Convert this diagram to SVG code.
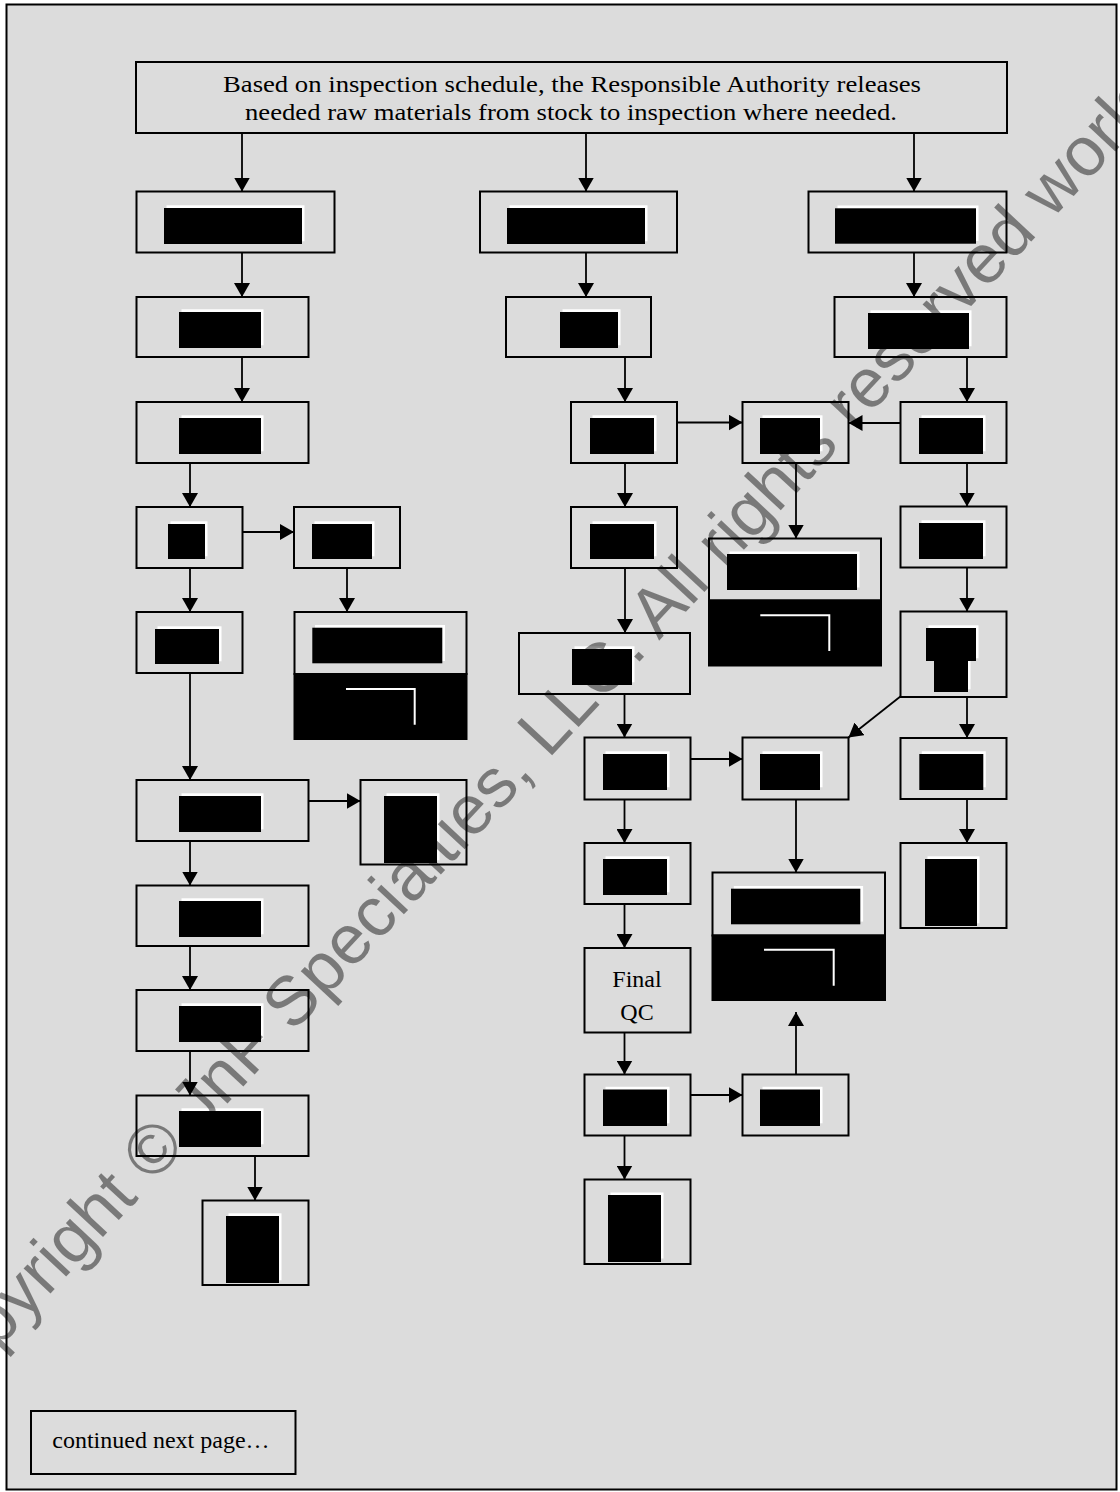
<svg xmlns="http://www.w3.org/2000/svg" width="1120" height="1492" viewBox="0 0 1120 1492">
<defs>
<marker id="ah" viewBox="0 0 14 16" markerWidth="14" markerHeight="16" refX="14" refY="8" orient="auto" markerUnits="userSpaceOnUse">
<path d="M0,0 L14,8 L0,16 z" fill="#000"/>
</marker>
<style>
.box{fill:none;stroke:#000;stroke-width:2}
.blk{fill:#000}
.sh{fill:#fff}
.lowr{fill:#000;stroke:#000;stroke-width:2}
.wl{fill:none;stroke:#fff;stroke-width:2}
.cn{fill:none;stroke:#000;stroke-width:1.8;marker-end:url(#ah)}
.t{font-family:"Liberation Serif","Times New Roman",Times,serif;font-size:24px;fill:#000}
.wm{font-family:"Liberation Sans",Arial,sans-serif;font-size:69.5px;fill:#000;fill-opacity:0.45}
</style>
</defs>
<rect x="0" y="0" width="1120" height="1492" fill="#fff"/>
<rect x="6.5" y="4.5" width="1110" height="1485" fill="#dcdcdc" stroke="#000" stroke-width="2"/>

<g id="connectors">
<path class="cn" d="M242,133 V191.5"/>
<path class="cn" d="M586,133 V191.5"/>
<path class="cn" d="M914,133 V191.5"/>
<path class="cn" d="M242,252.5 V297"/>
<path class="cn" d="M242,357 V402"/>
<path class="cn" d="M190,463 V507"/>
<path class="cn" d="M242.5,532 H294"/>
<path class="cn" d="M190,568 V612"/>
<path class="cn" d="M347,568 V612"/>
<path class="cn" d="M190,673 V780"/>
<path class="cn" d="M308.5,801 H360.5"/>
<path class="cn" d="M190,841 V885.5"/>
<path class="cn" d="M190,946 V990"/>
<path class="cn" d="M190,1051 V1095.5"/>
<path class="cn" d="M255,1156 V1200.5"/>
<path class="cn" d="M586,252.5 V297"/>
<path class="cn" d="M625,357 V402"/>
<path class="cn" d="M677,422.5 H742.5"/>
<path class="cn" d="M900.5,423 H848.5"/>
<path class="cn" d="M796,463 V538.5"/>
<path class="cn" d="M625,463 V507"/>
<path class="cn" d="M625,568 V633"/>
<path class="cn" d="M624.5,694 V737.5"/>
<path class="cn" d="M690.5,759 H742.5"/>
<path class="cn" d="M901,696 L848.5,737.5"/>
<path class="cn" d="M624.5,799.5 V843"/>
<path class="cn" d="M624.5,904 V948"/>
<path class="cn" d="M624.5,1032.5 V1074.5"/>
<path class="cn" d="M690.5,1095 H742.5"/>
<path class="cn" d="M796,1074.5 V1012"/>
<path class="cn" d="M796,799.5 V872.5"/>
<path class="cn" d="M624.5,1135.5 V1179.5"/>
<path class="cn" d="M914,252.5 V297"/>
<path class="cn" d="M967,357 V402"/>
<path class="cn" d="M967,463 V506.5"/>
<path class="cn" d="M967,567.5 V611.5"/>
<path class="cn" d="M967,697 V738"/>
<path class="cn" d="M967,799 V843"/>
</g>

<g id="top">
<rect class="box" x="136" y="62" width="871" height="71"/>
<text class="t" x="572" y="91.5" text-anchor="middle" textLength="698" lengthAdjust="spacingAndGlyphs">Based on inspection schedule, the Responsible Authority releases</text>
<text class="t" x="571" y="120" text-anchor="middle" textLength="652" lengthAdjust="spacingAndGlyphs">needed raw materials from stock to inspection where needed.</text>
</g>

<g id="A1"><rect class="box" x="136.5" y="191.5" width="198" height="61"/><rect class="sh" x="166.5" y="205.3" width="138" height="36"/><rect class="blk" x="164" y="208" width="138" height="36"/></g>
<g id="A2"><rect class="box" x="136.5" y="297" width="172" height="60"/><rect class="sh" x="181.5" y="309.3" width="82" height="36"/><rect class="blk" x="179" y="312" width="82" height="36"/></g>
<g id="A3"><rect class="box" x="136.5" y="402" width="172" height="61"/><rect class="sh" x="181.5" y="415.3" width="82" height="36"/><rect class="blk" x="179" y="418" width="82" height="36"/></g>
<g id="A4"><rect class="box" x="136.5" y="507" width="106" height="61"/><rect class="sh" x="170.5" y="521.3" width="37" height="35"/><rect class="blk" x="168" y="524" width="37" height="35"/></g>
<g id="A5"><rect class="box" x="136.5" y="612" width="106" height="61"/><rect class="sh" x="157.5" y="626.3" width="64" height="35"/><rect class="blk" x="155" y="629" width="64" height="35"/></g>
<g id="A6"><rect class="box" x="294" y="507" width="106" height="61"/><rect class="sh" x="314.5" y="521.3" width="60" height="35"/><rect class="blk" x="312" y="524" width="60" height="35"/></g>
<g id="A7"><rect class="box" x="294.5" y="612" width="172" height="62"/><rect class="lowr" x="294.5" y="674" width="172" height="65"/><rect class="sh" x="315" y="625" width="130" height="36"/><rect class="blk" x="312.3" y="627.7" width="130" height="35.6"/><path class="wl" d="M346,689 H414.7 V724.7"/></g>
<g id="A8"><rect class="box" x="136.5" y="780" width="172" height="61"/><rect class="sh" x="181.5" y="793.3" width="82" height="36"/><rect class="blk" x="179" y="796" width="82" height="36"/></g>
<g id="A9"><rect class="box" x="360.5" y="780" width="106" height="84.5"/><rect class="sh" x="386.5" y="793.3" width="53" height="67"/><rect class="blk" x="384" y="796" width="53" height="67"/></g>
<g id="A10"><rect class="box" x="136.5" y="885.5" width="172" height="60.5"/><rect class="sh" x="181.5" y="898.3" width="82" height="36"/><rect class="blk" x="179" y="901" width="82" height="36"/></g>
<g id="A11"><rect class="box" x="136.5" y="990" width="172" height="61"/><rect class="sh" x="181.5" y="1003.3" width="82" height="36"/><rect class="blk" x="179" y="1006" width="82" height="36"/></g>
<g id="A12"><rect class="box" x="136.5" y="1095.5" width="172" height="60.5"/><rect class="sh" x="181.5" y="1108.3" width="82" height="36"/><rect class="blk" x="179" y="1111" width="82" height="36"/></g>
<g id="A13"><rect class="box" x="202.5" y="1200.5" width="106" height="84.5"/><rect class="sh" x="228.5" y="1213.3" width="53" height="67"/><rect class="blk" x="226" y="1216" width="53" height="67"/></g>

<g id="B1"><rect class="box" x="480" y="191.5" width="197" height="61"/><rect class="sh" x="509.5" y="205.3" width="138" height="36"/><rect class="blk" x="507" y="208" width="138" height="36"/></g>
<g id="B2"><rect class="box" x="506" y="297" width="145" height="60"/><rect class="sh" x="562.5" y="309.3" width="58" height="36"/><rect class="blk" x="560" y="312" width="58" height="36"/></g>
<g id="B3"><rect class="box" x="571" y="402" width="106" height="61"/><rect class="sh" x="592.5" y="415.3" width="64" height="36"/><rect class="blk" x="590" y="418" width="64" height="36"/></g>
<g id="B4"><rect class="box" x="742.5" y="402" width="106" height="61"/><rect class="sh" x="762.5" y="415.3" width="60" height="36"/><rect class="blk" x="760" y="418" width="60" height="36"/></g>
<g id="B5"><rect class="box" x="571" y="507" width="106" height="61"/><rect class="sh" x="592.5" y="521.3" width="64" height="35"/><rect class="blk" x="590" y="524" width="64" height="35"/></g>
<g id="B6"><rect class="box" x="519" y="633" width="171" height="61"/><rect class="sh" x="574.5" y="646.3" width="60" height="36"/><rect class="blk" x="572" y="649" width="60" height="36"/></g>
<g id="B7"><rect class="box" x="709" y="538.5" width="172" height="62"/><rect class="lowr" x="709" y="600.5" width="172" height="65"/><rect class="sh" x="729.5" y="551.5" width="130" height="36"/><rect class="blk" x="727" y="554" width="130" height="36"/><path class="wl" d="M760.3,615.3 H829.3 V651"/></g>
<g id="B8"><rect class="box" x="584.5" y="737.5" width="106" height="62"/><rect class="sh" x="605.5" y="751.3" width="64" height="36"/><rect class="blk" x="603" y="754" width="64" height="36"/></g>
<g id="B9"><rect class="box" x="742.5" y="737.5" width="106" height="62"/><rect class="sh" x="762.5" y="751.3" width="60" height="36"/><rect class="blk" x="760" y="754" width="60" height="36"/></g>
<g id="B10"><rect class="box" x="584.5" y="843" width="106" height="61"/><rect class="sh" x="605.5" y="856.3" width="64" height="36"/><rect class="blk" x="603" y="859" width="64" height="36"/></g>
<g id="B11"><rect class="box" x="584.5" y="948" width="106" height="84.5"/><text class="t" x="637" y="987" text-anchor="middle">Final</text><text class="t" x="637" y="1020" text-anchor="middle">QC</text></g>
<g id="B12"><rect class="box" x="584.5" y="1074.5" width="106" height="61"/><rect class="sh" x="605.5" y="1086.8" width="64" height="36.5"/><rect class="blk" x="603" y="1089.5" width="64" height="36.5"/></g>
<g id="B13"><rect class="box" x="742.5" y="1074.5" width="106" height="61"/><rect class="sh" x="762.5" y="1086.8" width="60" height="36.5"/><rect class="blk" x="760" y="1089.5" width="60" height="36.5"/></g>
<g id="B14"><rect class="box" x="712.5" y="872.5" width="172.5" height="63"/><rect class="lowr" x="712.5" y="935.5" width="172.5" height="64.5"/><rect class="sh" x="733.8" y="886" width="129.3" height="35.6"/><rect class="blk" x="731" y="888.7" width="129.3" height="35.6"/><path class="wl" d="M764,949.7 H833.7 V985.7"/></g>
<g id="B15"><rect class="box" x="584.5" y="1179.5" width="106" height="84.5"/><rect class="sh" x="610.5" y="1192.5" width="53" height="66"/><rect class="blk" x="608" y="1195" width="53" height="67"/></g>

<g id="R1"><rect class="box" x="808.5" y="191.5" width="198" height="61"/><rect class="sh" x="837.5" y="205.5" width="141" height="35.4"/><rect class="blk" x="835" y="208.3" width="141" height="35.4"/></g>
<g id="R2"><rect class="box" x="834.5" y="297" width="172" height="60"/><rect class="sh" x="870.5" y="310.3" width="101" height="36"/><rect class="blk" x="868" y="313" width="101" height="36"/></g>
<g id="R3"><rect class="box" x="900.5" y="402" width="106" height="61"/><rect class="sh" x="921.5" y="415.3" width="64" height="36"/><rect class="blk" x="919" y="418" width="64" height="36"/></g>
<g id="R4"><rect class="box" x="900.5" y="506.5" width="106" height="61"/><rect class="sh" x="921.5" y="520.3" width="64" height="36"/><rect class="blk" x="919" y="523" width="64" height="36"/></g>
<g id="R5"><rect class="box" x="900.5" y="611.5" width="106" height="85.5"/><rect class="sh" x="928.5" y="625.3" width="50" height="33"/><rect class="sh" x="936.5" y="658.3" width="34" height="31"/><rect class="blk" x="926" y="628" width="50" height="33"/><rect class="blk" x="934" y="661" width="34" height="31"/></g>
<g id="R6"><rect class="box" x="900.5" y="738" width="106" height="61"/><rect class="sh" x="921.8" y="751.3" width="64" height="36"/><rect class="blk" x="919.3" y="754" width="64" height="36"/></g>
<g id="R7"><rect class="box" x="900.5" y="843" width="106" height="85"/><rect class="sh" x="927.5" y="856.3" width="52" height="67"/><rect class="blk" x="925" y="859" width="52" height="67"/></g>

<g id="continued"><rect class="box" x="31" y="1411" width="264.5" height="63"/><text class="t" x="52.3" y="1448.3">continued next page…</text></g>

<text class="wm" transform="translate(-63.5,1415.6) rotate(-47)" x="0" y="0">Copyright © JnF Specialties, LLC. All rights reserved worldwide</text>
</svg>
